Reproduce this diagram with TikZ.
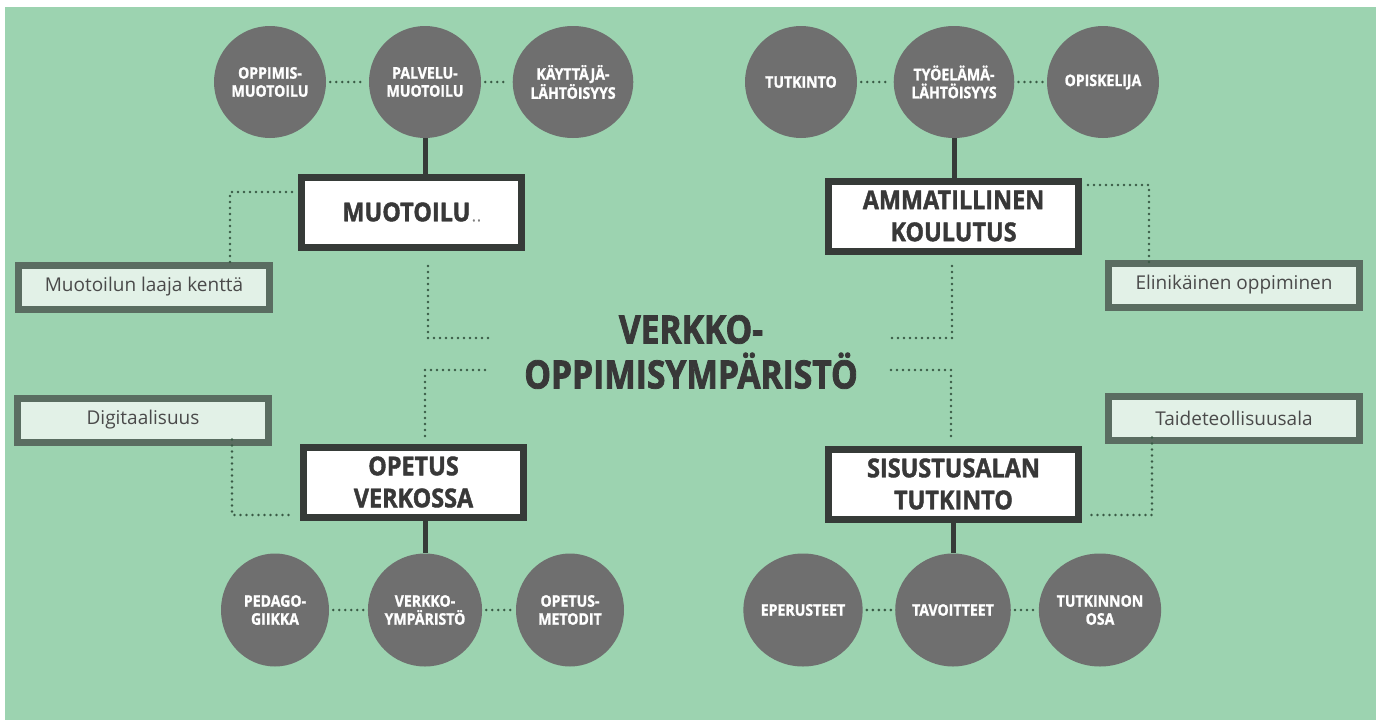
\documentclass[tikz,border=0pt]{standalone}
\usepackage{fontspec}
\setmainfont{Open Sans}
\newfontfamily\circfont[FakeStretch=0.88, BoldFeatures={FakeBold=1.2}]{Open Sans}
\newfontfamily\headfont[FakeStretch=0.9, BoldFeatures={FakeBold=1.5}]{Open Sans}
\newfontfamily\titlefont[FakeStretch=0.86, BoldFeatures={FakeBold=2}]{Open Sans}
\usetikzlibrary{shapes.geometric}
\definecolor{bg}{HTML}{9CD3B0}
\definecolor{circc}{HTML}{6F6F6F}
\definecolor{darkc}{HTML}{363B38}
\definecolor{sbord}{HTML}{5A6D61}
\definecolor{sfill}{HTML}{E2F1E7}
\definecolor{dotc}{HTML}{3A5A45}
\definecolor{txtc}{HTML}{383838}
\definecolor{stxt}{HTML}{4A4A4A}
\tikzset{
  circnode/.style={ellipse, fill=circc, minimum width=112pt, minimum height=112pt, inner sep=0pt,
    text=white, align=center, font=\circfont\bfseries\fontsize{16}{18}\selectfont},
  circlow/.style={circnode, minimum width=108pt, minimum height=113pt},
  mainbox/.style={draw=darkc, line width=7pt, fill=white, minimum height=70pt, inner sep=0pt,
    text=txtc, align=center, font=\headfont\bfseries\fontsize{26}{32}\selectfont},
  smallbox/.style={draw=sbord, line width=7pt, fill=sfill, minimum width=251pt, minimum height=44pt,
    inner sep=0pt, text=stxt, font=\fontsize{19}{22}\selectfont},
  dotline/.style={dotc, line width=2.8pt, dash pattern=on 0pt off 6pt, line cap=round},
  solidline/.style={darkc, line width=5pt},
}
\begin{document}
\begin{tikzpicture}[x=1pt, y=-1pt]
\fill[white] (0,0) rectangle (1382,720);
\useasboundingbox (0,0) rectangle (1382,720);
\fill[bg] (5,7) rectangle (1376,720);

% title
\node[text=txtc, align=center, font=\titlefont\bfseries\fontsize{39}{45}\selectfont] (title) at (691,352) {VERKKO-\\OPPIMISYMPÄRISTÖ};

% main boxes
\node[mainbox, minimum width=220pt] (muot) at (411.5,212) {MUOTOILU{\color{gray}\fontsize{12}{12}\selectfont\,.\,.}};
\node[mainbox, minimum width=250pt] (amm) at (953.5,216) {AMMATILLINEN\\KOULUTUS};
\node[mainbox, minimum width=220pt] (opet) at (413.5,482) {OPETUS\\VERKOSSA};
\node[mainbox, minimum width=250pt] (sis) at (953.5,484) {SISUSTUSALAN\\TUTKINTO};

% small boxes
\node[smallbox] (mlk) at (144,287) {Muotoilun laaja kenttä};
\node[smallbox] (eli) at (1234,285) {Elinikäinen oppiminen};
\node[smallbox] (dig) at (143,420) {Digitaalisuus};
\node[smallbox] (tai) at (1234,418) {Taideteollisuusala};

% circles
\node[circnode] (a1) at (270,82) {OPPIMIS-\\MUOTOILU};
\node[circnode] (a2) at (425,82) {PALVELU-\\MUOTOILU};
\node[circnode] (a3) at (573,82) {KÄYTTÄJÄ-\\LÄHTÖISYYS};
\node[circnode] (b1) at (801,82) {TUTKINTO};
\node[circnode] (b2) at (954,82) {TYÖELÄMÄ-\\LÄHTÖISYYS};
\node[circnode] (b3) at (1103,82) {OPISKELIJA};
\node[circlow] (c1) at (275,610) {PEDAGO-\\GIIKKA};
\node[circlow] (c2) at (425,610) {VERKKO-\\YMPÄRISTÖ};
\node[circlow] (c3) at (570,610) {OPETUS-\\METODIT};
\node[circlow] (d1) at (803,610) {EPERUSTEET};
\node[circlow] (d2) at (953,610) {TAVOITTEET};
\node[circlow] (d3) at (1100,610) {TUTKINNON\\OSA};

% dotted links between circles
\foreach \p/\q in {a1/a2,a2/a3,b1/b2,b2/b3,c1/c2,c2/c3,d1/d2,d2/d3}
  \draw[dotline] ([xshift=4pt]\p.east) -- ([xshift=-4pt]\q.west);

% solid connectors
\draw[solidline] (a2.south) -- (a2 |- muot.north);
\draw[solidline] (b2.south) -- (b2 |- amm.north);
\draw[solidline] (c2 |- opet.south) -- (c2.north);
\draw[solidline] (d2 |- sis.south) -- (d2.north);

% dotted elbows to small boxes
\coordinate (k1) at (230,192);
\draw[dotline] ([xshift=-6pt]muot.west |- k1) -- (k1) -- ([yshift=-6pt]k1 |- mlk.north);
\coordinate (k3) at (1149,185);
\draw[dotline] ([xshift=6pt]amm.east |- k3) -- (k3) -- ([yshift=-6pt]k3 |- eli.north);
\coordinate (k5) at (232,515);
\draw[dotline] ([yshift=6pt]k5 |- dig.south) -- (k5) -- ([xshift=-6pt]opet.west |- k5);
\coordinate (k7) at (1152,515);
\draw[dotline] ([yshift=6pt]k7 |- tai.south) -- (k7) -- ([xshift=6pt]sis.east |- k7);

% dotted elbows towards title
\coordinate (t1a) at (428,266); \coordinate (t1) at (428,338); \coordinate (t1b) at (490,338);
\draw[dotline] (t1a) -- (t1) -- (t1b);
\coordinate (t2a) at (952,266); \coordinate (t2) at (952,338); \coordinate (t2b) at (888,338);
\draw[dotline] (t2a) -- (t2) -- (t2b);
\coordinate (t3a) at (425,436); \coordinate (t3) at (425,370); \coordinate (t3b) at (490,370);
\draw[dotline] (t3a) -- (t3) -- (t3b);
\coordinate (t4a) at (951,436); \coordinate (t4) at (951,370); \coordinate (t4b) at (888,370);
\draw[dotline] (t4a) -- (t4) -- (t4b);
\end{tikzpicture}
\end{document}
